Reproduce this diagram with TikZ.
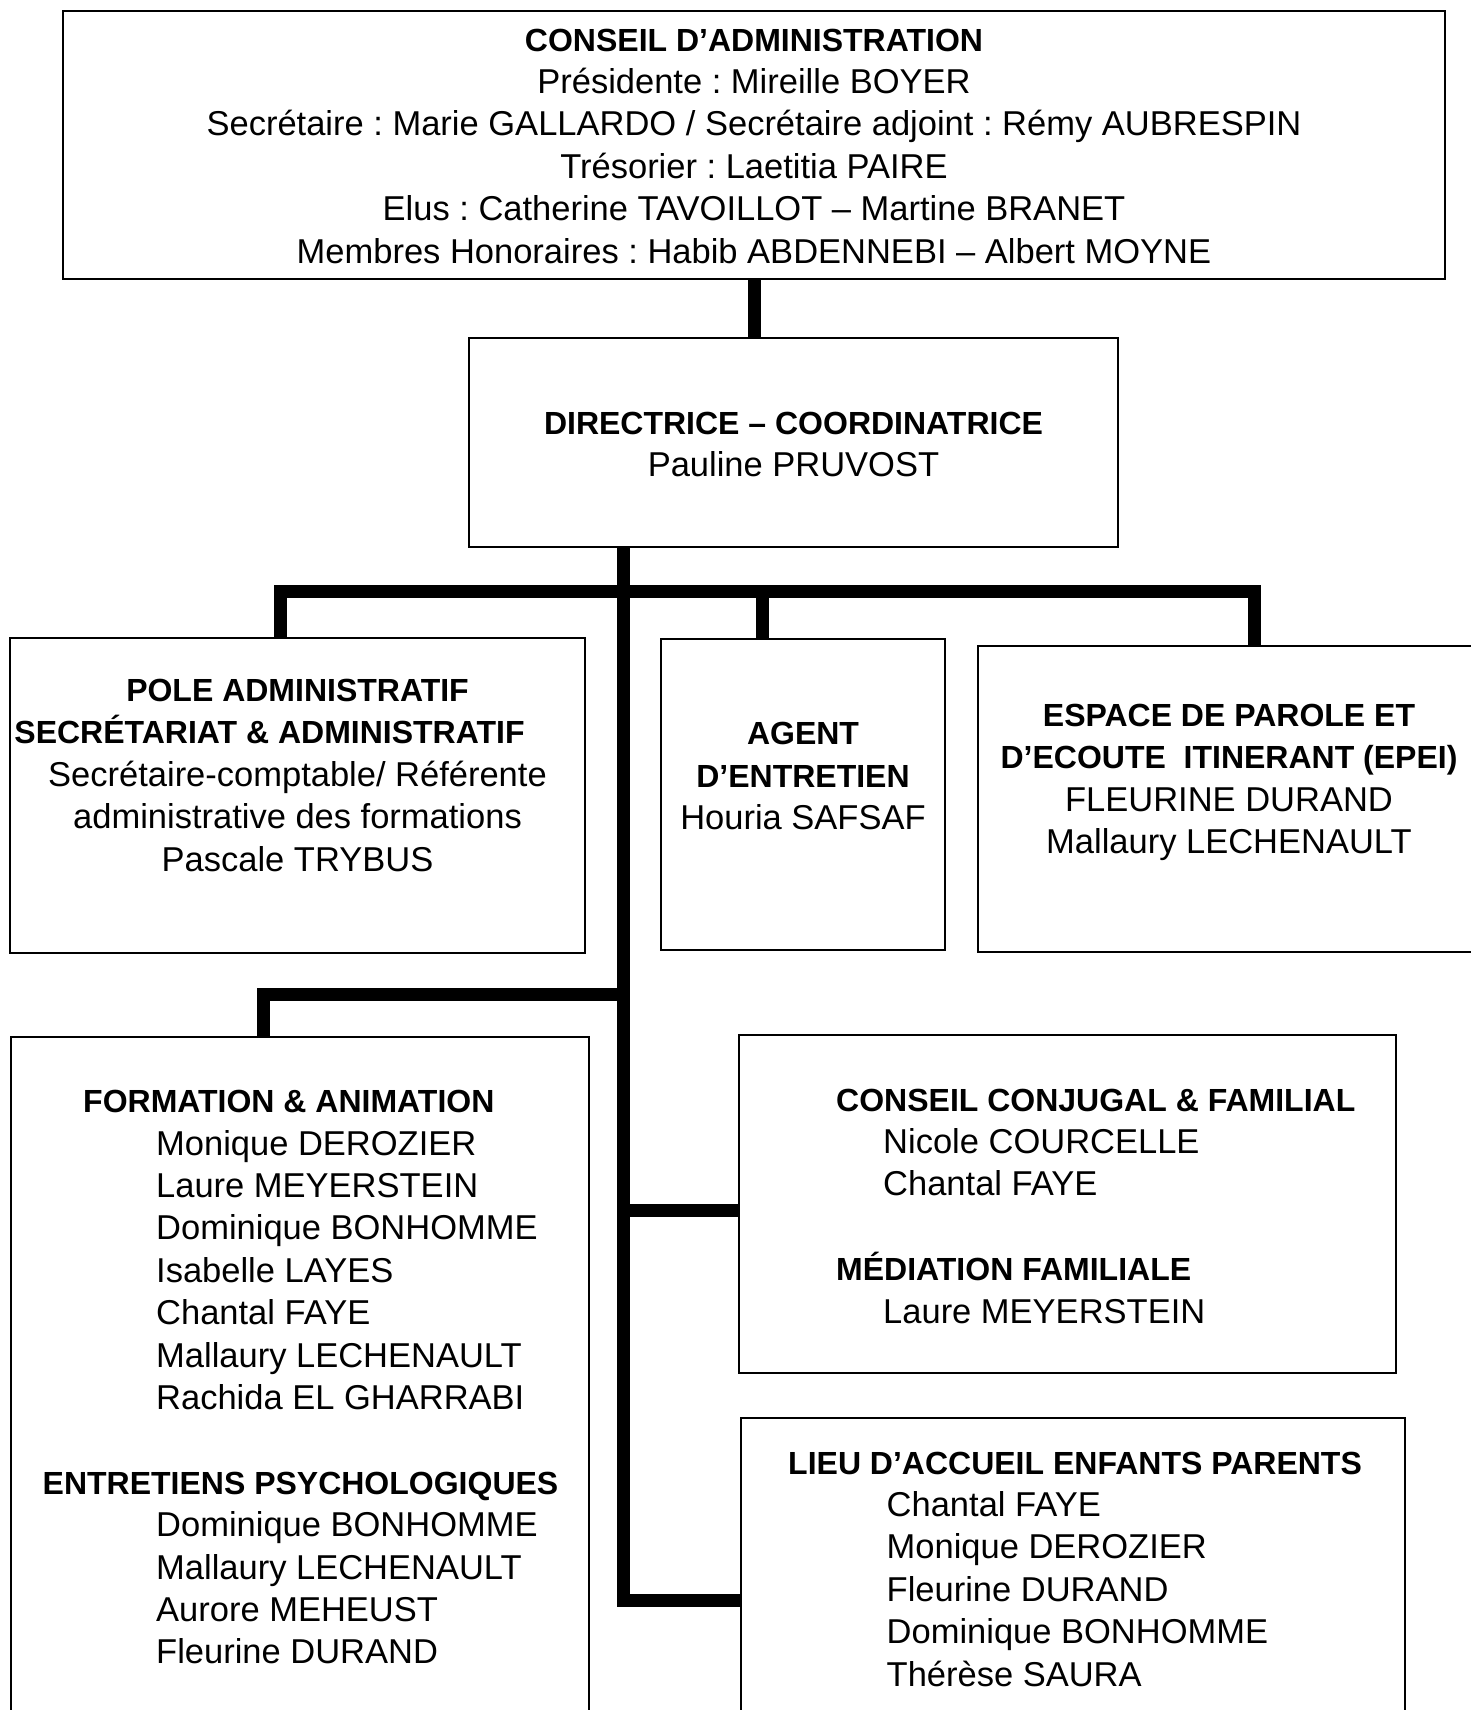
\documentclass[tikz,border=0pt]{standalone}
\usepackage{fontspec}
\setmainfont{Liberation Sans}
\frenchspacing
\newcommand\hdfont{\fontsize{32}{42.4}\selectfont\bfseries}
\begin{document}
\begin{tikzpicture}[x=1pt,y=-1pt,
  box/.style={draw=black,line width=2pt,rectangle,inner sep=0pt,fill=none},
  conn/.style={draw=black,line width=13pt,line join=miter},
  txt/.style={inner sep=0pt,font=\fontsize{34.5}{42.4}\selectfont\frenchspacing},
  ]
\useasboundingbox (0,0) rectangle (1471,1710);
\clip (0,0) rectangle (1471,1710);
% boxes
\node[box,minimum width=1382pt,minimum height=268pt] (ca) at (754,145) {};
\node[box,minimum width=649pt,minimum height=209pt] (dir) at (793.5,442.5) {};
\node[box,minimum width=575pt,minimum height=315pt] (pole) at (297.5,795.5) {};
\node[box,minimum width=284pt,minimum height=311pt] (agent) at (803,794.5) {};
\node[box,minimum width=522pt,minimum height=306pt] (epei) at (1239,799) {};
\node[box,minimum width=578pt,minimum height=713pt] (form) at (300,1393.5) {};
\node[box,minimum width=657pt,minimum height=338pt] (cc) at (1067.5,1204) {};
\node[box,minimum width=664pt,minimum height=332pt] (laep) at (1073,1584) {};
% connector coordinates
\coordinate (bl) at (280,591);
\coordinate (br) at (1254,591);
\coordinate (ba) at (762,591);
\coordinate (fb) at (623,994);
\coordinate (fl) at (263,994);
\coordinate (cb) at (623,1210);
\coordinate (lb) at (623,1600);
% connectors
\draw[conn] (ca.south) -- (ca.south |- dir.north);
\draw[conn] (pole.north -| bl) -- (bl) -- (br) -- (br |- epei.north);
\draw[conn] (ba) -- (agent.north -| ba);
\draw[conn] (dir.south -| lb) -- (lb) -- (laep.west |- lb);
\draw[conn] (cb) -- (cc.west |- cb);
\draw[conn] (fb) -- (fl) -- (form.north -| fl);
% texts
\node[txt,align=center] (catxt) at (754,146) {{\hdfont CONSEIL D’ADMINISTRATION}\\
Présidente : Mireille BOYER\\
Secrétaire : Marie GALLARDO / Secrétaire adjoint : Rémy AUBRESPIN\\
Trésorier : Laetitia PAIRE\\
Elus : Catherine TAVOILLOT – Martine BRANET\\
Membres Honoraires : Habib ABDENNEBI – Albert MOYNE};
\node[txt,align=center] (dirtxt) at (793.5,444.5) {{\hdfont DIRECTRICE – COORDINATRICE}\\
Pauline PRUVOST};
\node[txt,align=center] (poletxt) at (297.5,775.3) {{\hdfont POLE ADMINISTRATIF}\\
{\hdfont SECRÉTARIAT \& ADMINISTRATIF}\rule{56pt}{0pt}\\
Secrétaire-comptable/ Référente\\
administrative des formations\\
Pascale TRYBUS};
\node[txt,align=center] (agenttxt) at (803,776) {{\hdfont AGENT}\\
{\hdfont D’ENTRETIEN}\\
Houria SAFSAF};
\node[txt,align=center] (epeitxt) at (1229,782.4) {{\hdfont ESPACE DE PAROLE ET}\\
{\hdfont D’ECOUTE~~ITINERANT (EPEI)}\\
FLEURINE DURAND\\
Mallaury LECHENAULT};
\node[txt,align=left,anchor=west] (formtxt) at (42.5,1377.3) {\hspace*{40.5pt}{\hdfont FORMATION \& ANIMATION}\\
\hspace*{113.5pt}Monique DEROZIER\\
\hspace*{113.5pt}Laure MEYERSTEIN\\
\hspace*{113.5pt}Dominique BONHOMME\\
\hspace*{113.5pt}Isabelle LAYES\\
\hspace*{113.5pt}Chantal FAYE\\
\hspace*{113.5pt}Mallaury LECHENAULT\\
\hspace*{113.5pt}Rachida EL GHARRABI\\[42.4pt]
{\hdfont ENTRETIENS PSYCHOLOGIQUES}\\
\hspace*{113.5pt}Dominique BONHOMME\\
\hspace*{113.5pt}Mallaury LECHENAULT\\
\hspace*{113.5pt}Aurore MEHEUST\\
\hspace*{113.5pt}Fleurine DURAND};
\node[txt,align=left,anchor=west] (cctxt) at (836,1206) {{\hdfont CONSEIL CONJUGAL \& FAMILIAL}\\
\hspace*{47pt}Nicole COURCELLE\\
\hspace*{47pt}Chantal FAYE\\[42.4pt]
{\hdfont MÉDIATION FAMILIALE}\\
\hspace*{47pt}Laure MEYERSTEIN};
\node[txt,align=left,anchor=west] (laeptxt) at (788,1569) {{\hdfont LIEU D’ACCUEIL ENFANTS PARENTS}\\
\hspace*{98.5pt}Chantal FAYE\\
\hspace*{98.5pt}Monique DEROZIER\\
\hspace*{98.5pt}Fleurine DURAND\\
\hspace*{98.5pt}Dominique BONHOMME\\
\hspace*{98.5pt}Thérèse SAURA};
\end{tikzpicture}
\end{document}
